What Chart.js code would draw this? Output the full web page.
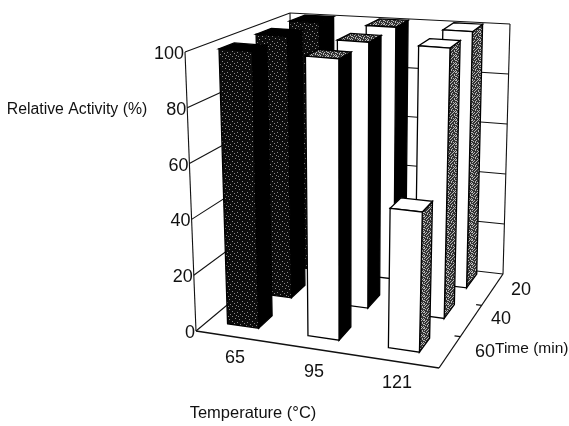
<!DOCTYPE html>
<html><head><meta charset="utf-8">
<style>html,body{margin:0;padding:0;background:#fff}#w{width:569px;height:426px;position:relative}</style>
<script src="https://cdn.jsdelivr.net/npm/chart.js@4"></script></head>
<body><div id="w"><canvas id="c" width="569" height="426"></canvas></div>
<script>
const temperatures = ['65','95','121'];
const times = ['60','40','20'];
const values60 = [100, 100, 49];
const values40 = [100, 100, 100];
const values20 = [100, 100, 100];
const valueTicks = [0,20,40,60,80,100];
const rowNear = {60:0.125, 40:0.49, 20:0.82};
const FONT = '"Liberation Sans", Arial, sans-serif';

const A=[196,331],B=[439,368],C=[503,274],D=[293,250];
const TA=[185,52],TB=[447,75],TC=[510,24],TD=[290,13];
const BARW=0.13, BARD=0.15;

function mix(p,q,t){return [p[0]+(q[0]-p[0])*t,p[1]+(q[1]-p[1])*t];}
function proj(u,v,w){
  const low=mix(mix(A,B,u),mix(D,C,u),v), high=mix(mix(TA,TB,u),mix(TD,TC,u),v);
  return mix(low,high,w);
}
function pattern(ctx,bg,dots,rows){
  const t=document.createElement('canvas');t.width=rows[0].length;t.height=rows.length;
  const g=t.getContext('2d');g.fillStyle=bg;g.fillRect(0,0,t.width,t.height);g.fillStyle=dots;
  rows.forEach((r,y)=>[...r].forEach((c,x)=>{if(c==='x')g.fillRect(x,y,1,1);}));
  return ctx.createPattern(t,'repeat');
}
const darkRows=['..........','..x.......','.......x..','....x.....','x.........','......x...','..x.....x.','..........','.....x....','.........x'];
const greyRows=['x.x..x.x','.x..x...','x..x..x.','..x...x.','x...x..x','.x.x....','...x.x.x','x.....x.'];

class Bar3D extends Chart.BarController{
  draw(){
    const ctx=this.chart.ctx, meta=this.getMeta(), xs=meta.xScale, ys=meta.yScale;
    const dark=pattern(ctx,'#0c0c0c','#8a8a8a',darkRows), grey=pattern(ctx,'#333','#b8b8b8',greyRows);
    const styles=[
      {front:dark,side:'#000',top:'#000'},
      {front:'#fff',side:'#000',top:grey},
      {front:'#fff',side:grey,top:'#fff'}];
    const vn=rowNear[this.getDataset().label];
    this.getDataset().data.forEach((val,i)=>{
      const f=(xs.getPixelForValue(i)-xs.left)/xs.width*1.01-0.022;
      const ys0=ys.getPixelForValue(0), ysv=ys.getPixelForValue(val);
      const w=(ys0-ysv)/(ys.bottom-ys.top);
      const u0=f-BARW/2,u1=f+BARW/2,v0=vn,v1=vn+BARD,s=styles[i];
      const poly=(pts,fill)=>{ctx.beginPath();pts.forEach((p,k)=>k?ctx.lineTo(p[0],p[1]):ctx.moveTo(p[0],p[1]));ctx.closePath();ctx.fillStyle=fill;ctx.fill();ctx.lineWidth=1.3;ctx.strokeStyle='#000';ctx.stroke();};
      ctx.save();
      poly([proj(u1,v0,0),proj(u1,v1,0),proj(u1,v1,w),proj(u1,v0,w)],s.side);
      poly([proj(u0,v0,w),proj(u1,v0,w),proj(u1,v1,w),proj(u0,v1,w)],s.top);
      poly([proj(u0,v0,0),proj(u1,v0,0),proj(u1,v0,w),proj(u0,v0,w)],s.front);
      ctx.restore();
    });
  }
}
Bar3D.id='bar3d';Bar3D.defaults=Chart.BarController.defaults;Bar3D.overrides=Chart.BarController.overrides;
Chart.register(Bar3D);

function line(ctx,p,q,lw){ctx.beginPath();ctx.moveTo(p[0],p[1]);ctx.lineTo(q[0],q[1]);ctx.lineWidth=lw||1.1;ctx.strokeStyle='#111';ctx.stroke();}
function text(ctx,s,x,y,size,align){ctx.font=size+'px '+FONT;ctx.textAlign=align||'center';ctx.textBaseline='middle';ctx.fillStyle='#111';ctx.fillText(s,x,y);}

const box={id:'box',
  beforeDatasetsDraw(ch){
    const ctx=ch.ctx,ys=ch.scales.y;
    ctx.save();
    valueTicks.forEach(t=>{
      const w=(ys.getPixelForValue(0)-ys.getPixelForValue(t))/(ys.bottom-ys.top);
      line(ctx,proj(0,0,w),proj(0,1,w));
      line(ctx,proj(0,1,w),proj(1,1,w));
    });
    line(ctx,TA,A);line(ctx,TC,C);line(ctx,TD,D);
    line(ctx,A,B,1.3);line(ctx,B,C,1.3);
    [1/3,2/3].forEach(v=>line(ctx,mix(B,C,v),mix(mix(B,C,v),mix(A,D,v),0.025)));
    ctx.restore();
  },
  afterDraw(ch){
    const ctx=ch.ctx,ys=ch.scales.y;
    ctx.save();
    ys.ticks.forEach(tk=>{
      const w=(ys.getPixelForValue(0)-ys.getPixelForValue(tk.value))/(ys.bottom-ys.top);
      const p=proj(0,0,w);
      text(ctx,String(tk.value),p[0]-1,p[1]+2,18,'right');
    });
    const tx=[[235,358],[314,372],[397,383]];
    temperatures.forEach((s,i)=>text(ctx,s,tx[i][0],tx[i][1],18));
    const ty=[[485,352],[501,319],[521,290]];
    times.forEach((s,i)=>text(ctx,s,ty[i][0],ty[i][1],18));
    text(ctx,'Time (min)',495,349,15.5,'left');
    text(ctx,'Relative Activity (%)',77,110,15.8);
    text(ctx,'Temperature (°C)',253,413,16.5);
    ctx.restore();
  }};

new Chart(document.getElementById('c'),{
  type:'bar3d',
  data:{labels:temperatures,datasets:[
    {label:'60',data:values60,clip:false},{label:'40',data:values40,clip:false},{label:'20',data:values20,clip:false}]},
  options:{responsive:false,animation:false,
    layout:{padding:{top:52,bottom:95,right:130,left:0}},
    plugins:{legend:{display:false},tooltip:{enabled:false}},
    scales:{
      x:{type:'category',display:false,grid:{display:false}},
      y:{min:0,max:100,afterFit(s){s.width=196;},grid:{display:false},border:{display:false},
        ticks:{stepSize:20,color:'rgba(0,0,0,0)',font:{size:1}}}}},
  plugins:[box]});
</script></body></html>
